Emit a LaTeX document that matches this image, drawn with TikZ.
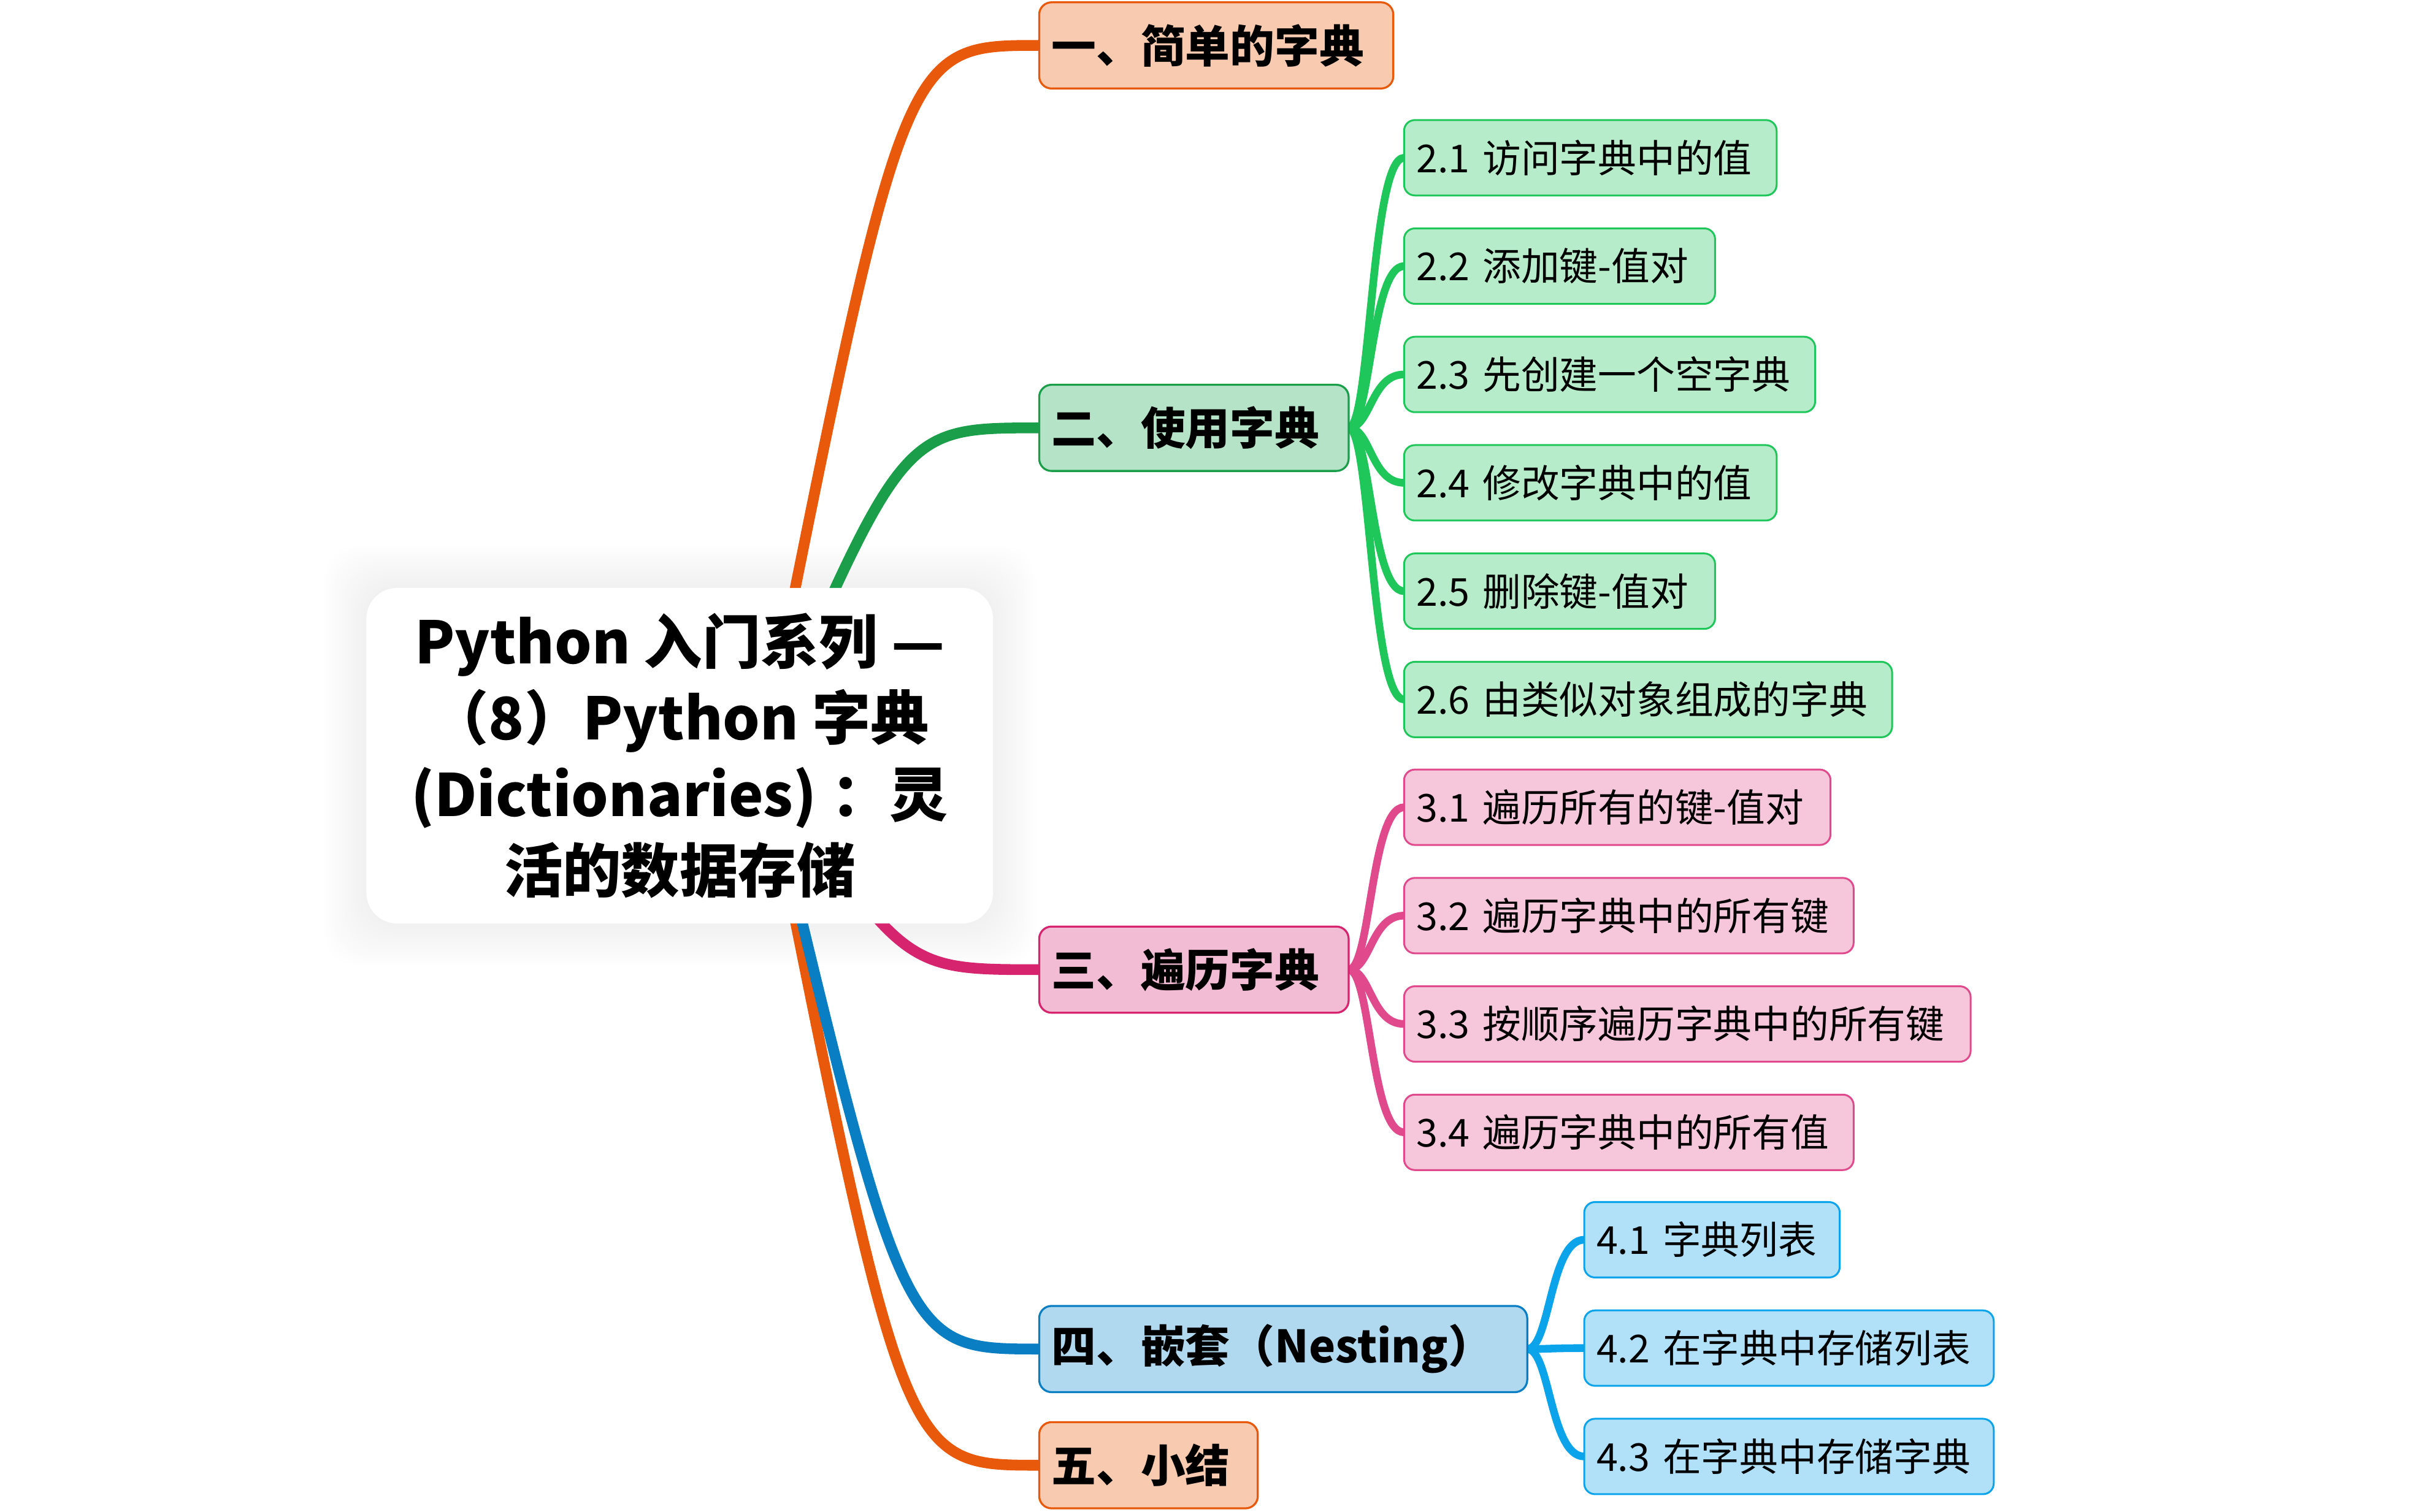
\documentclass[tikz,border=0pt]{standalone}
\usepackage{fontspec}
\newfontfamily\cjk{Noto Sans CJK SC}
\usetikzlibrary{positioning,calc}

\definecolor{orangeline}{HTML}{E8590C}
\definecolor{orangefill}{HTML}{F8CBB0}
\definecolor{greenmain}{HTML}{1A9E4A}
\definecolor{greenfill}{HTML}{B5E3C8}
\definecolor{greensub}{HTML}{1FC65A}
\definecolor{greensubfill}{HTML}{B7ECCB}
\definecolor{pinkmain}{HTML}{D6246E}
\definecolor{pinkfill}{HTML}{F2BCD4}
\definecolor{pinksub}{HTML}{E04A8C}
\definecolor{pinksubfill}{HTML}{F6C6DB}
\definecolor{bluemain}{HTML}{0A7EC2}
\definecolor{bluefill}{HTML}{B0D8EE}
\definecolor{bluesub}{HTML}{0BA3EA}
\definecolor{bluesubfill}{HTML}{B1E1F9}

\pgfdeclarelayer{background}
\pgfsetlayers{background,main}

\begin{document}
\begin{tikzpicture}[x=1pt, y=-1pt,
    root/.style={fill=white, rounded corners=20pt, minimum width=407pt, minimum height=218pt, align=center, inner sep=0pt, font=\cjk\bfseries\fontsize{38}{49.5}\selectfont},
    mainbox/.style={draw, line width=1.3pt, rounded corners=8pt, anchor=west, minimum height=56pt, inner xsep=8pt, inner ysep=0pt, outer sep=0pt, align=left, font=\cjk\bfseries\fontsize{29}{34}\selectfont},
    subbox/.style={draw, line width=1.2pt, rounded corners=7pt, anchor=west, minimum height=49pt, inner xsep=8pt, inner ysep=0pt, outer sep=0pt, align=left, font=\cjk\fontsize{25}{30}\selectfont},
    trunk/.style={line width=7pt, to path={.. controls ($(\tikztostart |- \tikztotarget)!0.51!(\tikztotarget)$) .. (\tikztotarget)}},
    twig/.style={line width=5pt, to path={.. controls ($(\tikztostart)!0.4!(\tikztostart -| \tikztotarget)$) and ($(\tikztostart |- \tikztotarget)!0.4!(\tikztotarget)$) .. (\tikztotarget)}}]
    \useasboundingbox (0,0) rectangle (1568,982);

    % centre topic
    \node [root] (root) at (441.5,491) {Python 入门系列 —\\（8）Python 字典\\(Dictionaries)\hspace{0.25em}：灵\\活的数据存储};
    \coordinate (hub) at (495,490);

    % main topics
    \node [mainbox, draw=orangeline, fill=orangefill, text width=214pt] (n1) at (675,29.5) {一、简单的字典};
    \node [mainbox, draw=greenmain, fill=greenfill, text width=185pt] (n2) at (675,278) {二、使用字典};
    \node [mainbox, draw=pinkmain, fill=pinkfill, text width=185pt] (n3) at (675,630) {三、遍历字典};
    \node [mainbox, draw=bluemain, fill=bluefill, text width=301pt] (n4) at (675,876.5) {四、嵌套（Nesting）};
    \node [mainbox, draw=orangeline, fill=orangefill, text width=126pt] (n5) at (675,952) {五、小结};

    % subtopics
    \node [subbox, draw=greensub, fill=greensubfill, text width=226pt] (s21) at (912,102.5) {2.1~访问字典中的值};
    \node [subbox, draw=greensub, fill=greensubfill, text width=186pt, below=21.4pt of s21.south west, anchor=north west] (s22) {2.2~添加键-值对};
    \node [subbox, draw=greensub, fill=greensubfill, text width=251pt, below=21.4pt of s22.south west, anchor=north west] (s23) {2.3~先创建一个空字典};
    \node [subbox, draw=greensub, fill=greensubfill, text width=226pt, below=21.4pt of s23.south west, anchor=north west] (s24) {2.4~修改字典中的值};
    \node [subbox, draw=greensub, fill=greensubfill, text width=186pt, below=21.4pt of s24.south west, anchor=north west] (s25) {2.5~删除键-值对};
    \node [subbox, draw=greensub, fill=greensubfill, text width=301pt, below=21.4pt of s25.south west, anchor=north west] (s26) {2.6~由类似对象组成的字典};

    \node [subbox, draw=pinksub, fill=pinksubfill, text width=261pt] (s31) at (912,524.5) {3.1~遍历所有的键-值对};
    \node [subbox, draw=pinksub, fill=pinksubfill, text width=276pt, below=21.4pt of s31.south west, anchor=north west] (s32) {3.2~遍历字典中的所有键};
    \node [subbox, draw=pinksub, fill=pinksubfill, text width=352pt, below=21.4pt of s32.south west, anchor=north west] (s33) {3.3~按顺序遍历字典中的所有键};
    \node [subbox, draw=pinksub, fill=pinksubfill, text width=276pt, below=21.4pt of s33.south west, anchor=north west] (s34) {3.4~遍历字典中的所有值};

    \node [subbox, draw=bluesub, fill=bluesubfill, text width=150pt] (s41) at (1029,805.5) {4.1~字典列表};
    \node [subbox, draw=bluesub, fill=bluesubfill, text width=250pt, below=21.4pt of s41.south west, anchor=north west] (s42) {4.2~在字典中存储列表};
    \node [subbox, draw=bluesub, fill=bluesubfill, text width=250pt, below=21.4pt of s42.south west, anchor=north west] (s43) {4.3~在字典中存储字典};

    \begin{pgfonlayer}{background}
        % soft glow round the centre topic
        \foreach \g in {1,...,14}
            \fill [black, opacity=0.005, rounded corners=24pt] ($(root.south west)+(-2*\g,2*\g)$) rectangle ($(root.north east)+(2*\g,-2*\g)$);

        \draw [trunk, orangeline] (hub) to (n1.west);
        \draw [trunk, greenmain] (hub) to (n2.west);
        \draw [trunk, pinkmain] (hub) to (n3.west);
        \draw [trunk, orangeline] (hub) to (n5.west);
        \draw [trunk, bluemain] (hub) to (n4.west);

        \foreach \s in {s21,s22,s23,s24,s25,s26}
            \draw [twig, greensub] (n2.east) to (\s.west);
        \foreach \s in {s31,s32,s33,s34}
            \draw [twig, pinksub] (n3.east) to (\s.west);
        \foreach \s in {s41,s42,s43}
            \draw [twig, bluesub] (n4.east) to (\s.west);
    \end{pgfonlayer}
\end{tikzpicture}
\end{document}
